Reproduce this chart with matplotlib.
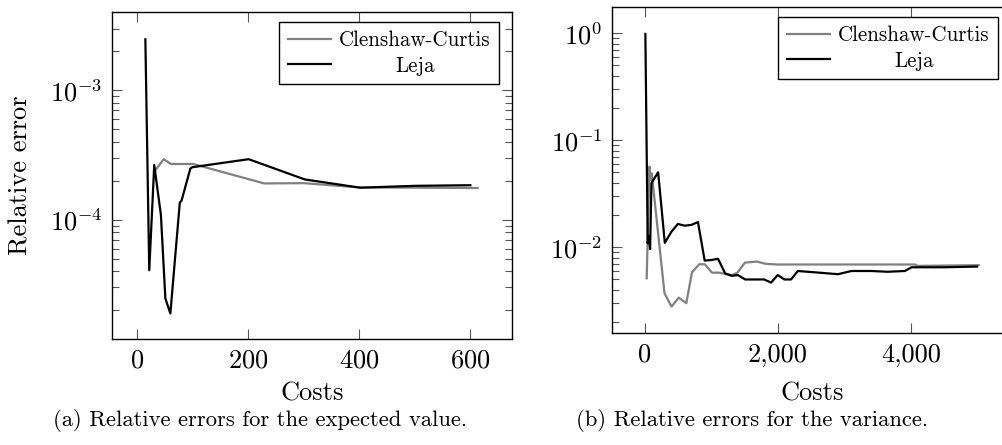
import matplotlib
matplotlib.use("Agg")
import matplotlib.pyplot as plt
from matplotlib.ticker import FuncFormatter, LogLocator, NullFormatter

# (a) expected value
cc_mean_cost = [31, 48, 61, 101, 229, 300, 400, 613]
cc_mean_err = [2.35e-4, 2.94e-4, 2.70e-4, 2.70e-4, 1.91e-4, 1.92e-4, 1.78e-4, 1.76e-4]
leja_mean_cost = [15, 22, 31, 43, 51, 60, 77, 80, 96, 100, 201, 302, 402, 500, 600]
leja_mean_err = [2.48e-3, 4.08e-5, 2.65e-4, 1.09e-4, 2.47e-5, 1.89e-5, 1.36e-4, 1.40e-4,
                 2.49e-4, 2.55e-4, 2.94e-4, 2.05e-4, 1.77e-4, 1.83e-4, 1.85e-4]

# (b) variance
cc_var_cost = [30, 71, 85, 106, 297, 403, 513, 625, 710, 821, 901, 1011, 1117, 1218,
               1319, 1394, 1505, 1681, 1817, 2000, 3000, 4060, 4100, 5017]
cc_var_err = [5.13e-3, 5.67e-2, 4.26e-2, 4.9e-2, 3.72e-3, 2.79e-3, 3.38e-3, 3.0e-3,
              5.84e-3, 6.94e-3, 6.94e-3, 5.79e-3, 5.79e-3, 5.62e-3, 5.5e-3, 5.8e-3,
              7.18e-3, 7.35e-3, 7.0e-3, 6.9e-3, 6.9e-3, 6.9e-3, 6.7e-3, 6.8e-3]
leja_var_cost = [10, 45, 60, 81, 101, 202, 302, 403, 498, 604, 705, 800, 901, 1002,
                 1102, 1208, 1309, 1399, 1510, 1700, 1796, 1897, 1998, 2098, 2199,
                 2300, 2602, 2904, 3105, 3407, 3650, 3909, 4010, 4500, 4992]
leja_var_err = [0.985, 1.09e-2, 1.26e-2, 9.6e-3, 3.97e-2, 5.02e-2, 1.10e-2, 1.40e-2,
                1.65e-2, 1.59e-2, 1.62e-2, 1.72e-2, 7.5e-3, 7.6e-3, 7.8e-3, 5.7e-3,
                5.4e-3, 5.5e-3, 5.0e-3, 5.0e-3, 5.0e-3, 4.67e-3, 5.5e-3, 5.0e-3,
                5.0e-3, 6.0e-3, 5.8e-3, 5.6e-3, 6.0e-3, 6.0e-3, 5.9e-3, 6.0e-3,
                6.5e-3, 6.5e-3, 6.6e-3]

plt.rcParams["font.family"] = ["cmr10", "DejaVu Serif"]
plt.rcParams["mathtext.fontset"] = "cm"
plt.rcParams["axes.formatter.use_mathtext"] = True
plt.rcParams["axes.unicode_minus"] = False

GRAY = "#808080"
fig = plt.figure(figsize=(10.02, 4.45), dpi=100)
ax1 = fig.add_axes([0.1118, 0.2382, 0.3992, 0.7348])
ax2 = fig.add_axes([0.6108, 0.2510, 0.3992, 0.7340])


def style_axis(ax):
    ax.set_yscale("log")
    ax.tick_params(which="both", direction="in", top=True, right=True,
                   color="#555555", width=0.8, labelsize=19, pad=7)
    ax.tick_params(which="major", length=7)
    ax.tick_params(which="minor", length=5)
    ax.yaxis.set_minor_locator(LogLocator(base=10, subs=range(2, 10)))
    ax.yaxis.set_minor_formatter(NullFormatter())
    for s in ax.spines.values():
        s.set_linewidth(1.0)
    ax.set_xlabel("Costs", fontsize=19)


def add_legend(ax, anchor):
    leg = ax.legend(loc="upper right", bbox_to_anchor=anchor, fontsize=15.1,
                    frameon=True, fancybox=False, framealpha=1, edgecolor="black",
                    borderaxespad=0, handlelength=2.05, handletextpad=0.4,
                    borderpad=0.4, labelspacing=0.3)
    leg.get_frame().set_linewidth(1.0)
    return leg


ax1.plot(cc_mean_cost, cc_mean_err, color=GRAY, lw=1.6, label="Clenshaw-Curtis")
ax1.plot(leja_mean_cost, leja_mean_err, color="black", lw=1.6, label="Leja")
style_axis(ax1)
ax1.set_xlim(-45, 675)
ax1.set_ylim(1.2e-5, 4.03e-3)
ax1.set_xticks([0, 200, 400, 600])
ax1.set_ylabel("Relative error", fontsize=19)
ax1.yaxis.set_label_coords(-0.2, 0.5)
ax1.xaxis.set_label_coords(0.5, -0.13)
leg1 = add_legend(ax1, (0.9675, 0.9694))

ax2.plot(cc_var_cost, cc_var_err, color=GRAY, lw=1.6, label="Clenshaw-Curtis")
ax2.plot(leja_var_cost, leja_var_err, color="black", lw=1.6, label="Leja")
style_axis(ax2)
ax2.set_xlim(-491, 5518)
ax2.set_ylim(1.57e-3, 1.77)
ax2.set_xticks([0, 2000, 4000])
ax2.xaxis.set_major_formatter(FuncFormatter(lambda v, p: f"{v:,.0f}"))
ax2.xaxis.set_label_coords(0.5, -0.149)
leg2 = add_legend(ax2, (0.965, 0.9685))

# centre the legend entries in their column, like pgfplots does
fig.canvas.draw()
r = fig.canvas.get_renderer()
for leg in (leg1, leg2):
    texts = leg.get_texts()
    widths = [t.get_window_extent(r).width for t in texts]
    wmax = max(widths)
    for t, w in zip(texts, widths):
        t.set_x((wmax - w) / 2)

fig.text(260 / 1002, 1 - 421 / 445, "(a) Relative errors for the expected value.",
         ha="center", va="center", fontsize=16.3)
fig.text(752 / 1002, 1 - 421 / 445, "(b) Relative errors for the variance.",
         ha="center", va="center", fontsize=16.3)

fig.savefig("out.png", dpi=100)
